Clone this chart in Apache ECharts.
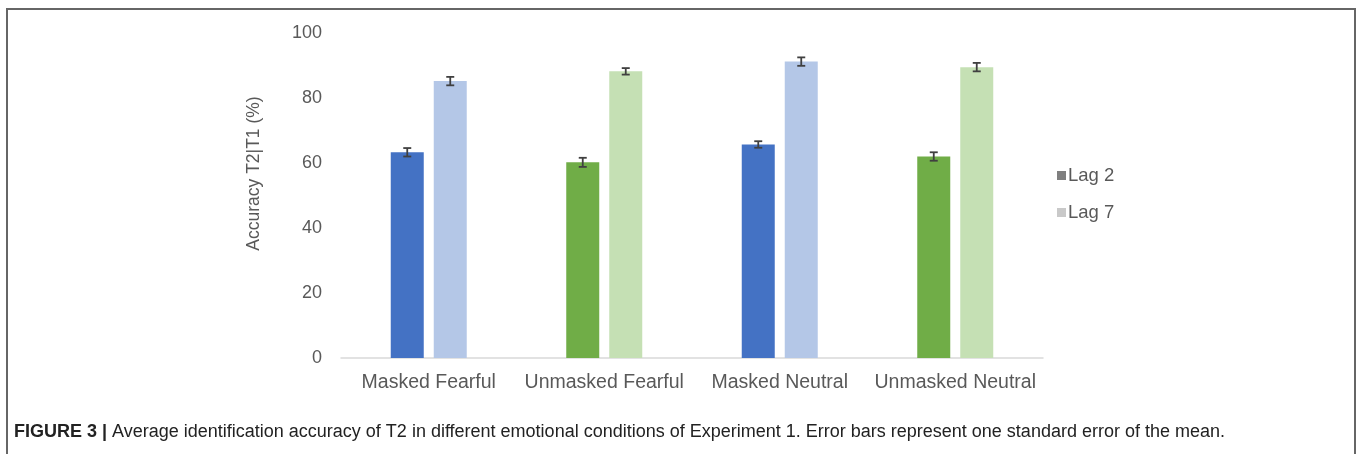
<!DOCTYPE html>
<html>
<head>
<meta charset="utf-8">
<script src="https://cdn.jsdelivr.net/npm/echarts@6/dist/echarts.min.js"></script>
<style>
  html, body { margin: 0; padding: 0; background: #fff; }
  #chart { width: 1358px; height: 454px; }
</style>
</head>
<body>
<div id="chart"></div>
<script>
// data
const categories = ['Masked Fearful', 'Unmasked Fearful', 'Masked Neutral', 'Unmasked Neutral']
const lag2 = [63.3, 60.2, 65.7, 62.0]
const lag7 = [85.2, 88.2, 91.2, 89.5]
const lag2Err = [1.3, 1.4, 1.0, 1.3]
const lag7Err = [1.3, 1.0, 1.3, 1.3]
const yTicks = [0, 20, 40, 60, 80, 100]

const lag2Colors = ['#4472c4', '#70ad47', '#4472c4', '#70ad47']
const lag7Colors = ['#b4c7e7', '#c5e0b4', '#b4c7e7', '#c5e0b4']

const BAR_W = 33
const BAR_GAP = 10
const textColor = '#595959'
const font = 'Liberation Sans, Arial, sans-serif'

const chart = echarts.init(document.getElementById('chart'))

// error bar drawn at the centre of a bar, shifted left or right in its band
function errorBar(side, errs) {
  return function (params, api) {
    const i = api.value(0)
    const v = api.value(1)
    const e = errs[i]
    const shift = side * (BAR_W + BAR_GAP) / 2
    const hi = api.coord([i, v + e])
    const lo = api.coord([i, v - e])
    const x = hi[0] + shift
    const cap = 4
    const style = { stroke: '#404040', lineWidth: 1.8 }
    return {
      type: 'group',
      children: [
        { type: 'line', shape: { x1: x, y1: hi[1], x2: x, y2: lo[1] }, style },
        { type: 'line', shape: { x1: x - cap, y1: hi[1], x2: x + cap, y2: hi[1] }, style },
        { type: 'line', shape: { x1: x - cap, y1: lo[1], x2: x + cap, y2: lo[1] }, style }
      ]
    }
  }
}

chart.setOption({
  backgroundColor: '#fff',
  animation: false,
  textStyle: { fontFamily: font },
  title: {
    left: 9,
    top: 418,
    text: '{b|FIGURE 3 |} Average identification accuracy of T2 in different emotional conditions of Experiment 1. Error bars represent one standard error of the mean.',
    textStyle: {
      fontSize: 18,
      fontWeight: 'normal',
      color: '#222',
      fontFamily: font,
      rich: {
        b: { fontSize: 18, fontWeight: 'bold', color: '#222', fontFamily: font }
      }
    }
  },
  graphic: [
    {
      type: 'polyline',
      shape: { points: [[7, 460], [7, 9], [1355, 9], [1355, 460]] },
      style: { stroke: '#666', lineWidth: 2, fill: null }
    }
  ],
  legend: {
    orient: 'vertical',
    left: 1052,
    top: 161,
    itemWidth: 9,
    itemHeight: 9,
    itemGap: 18,
    icon: 'rect',
    textStyle: { fontSize: 18.5, color: textColor, fontFamily: font, padding: [0, 0, 0, -3] },
    data: ['Lag 2', 'Lag 7']
  },
  grid: { left: 341, right: 315, top: 33, bottom: 96 },
  xAxis: {
    type: 'category',
    data: categories,
    axisLine: { lineStyle: { color: '#d9d9d9', width: 1.5 } },
    axisTick: { show: false },
    axisLabel: { fontSize: 19.5, color: textColor, margin: 15, interval: 0 }
  },
  yAxis: {
    type: 'value',
    min: yTicks[0],
    max: yTicks[yTicks.length - 1],
    interval: 20,
    name: 'Accuracy T2|T1 (%)',
    nameLocation: 'middle',
    nameGap: 78,
    nameTextStyle: { fontSize: 17.5, color: textColor, padding: [0, 0, 0, 44] },
    axisLine: { show: false },
    axisTick: { show: false },
    splitLine: { show: false },
    axisLabel: { fontSize: 18, color: textColor, margin: 19 }
  },
  series: [
    {
      name: 'Lag 2',
      type: 'bar',
      barWidth: BAR_W,
      barGap: (BAR_GAP / BAR_W * 100) + '%',
      itemStyle: { color: '#7f7f7f' },
      data: lag2.map((v, i) => ({ value: v, itemStyle: { color: lag2Colors[i] } }))
    },
    {
      name: 'Lag 7',
      type: 'bar',
      barWidth: BAR_W,
      itemStyle: { color: '#c9c9c9' },
      data: lag7.map((v, i) => ({ value: v, itemStyle: { color: lag7Colors[i] } }))
    },
    {
      type: 'custom',
      renderItem: errorBar(-1, lag2Err),
      data: lag2.map((v, i) => [i, v]),
      z: 5
    },
    {
      type: 'custom',
      renderItem: errorBar(1, lag7Err),
      data: lag7.map((v, i) => [i, v]),
      z: 5
    }
  ]
})
</script>
</body>
</html>
